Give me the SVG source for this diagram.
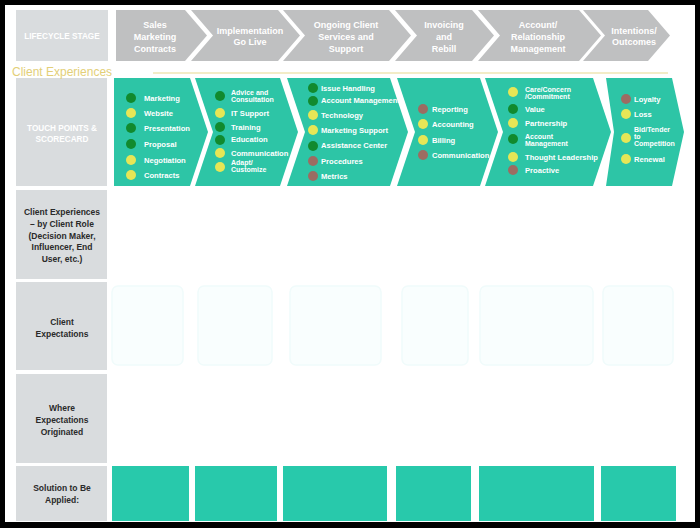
<svg xmlns="http://www.w3.org/2000/svg" width="700" height="528" viewBox="0 0 700 528">
<style>
.lbl{font-family:"Liberation Sans",Arial,sans-serif;font-weight:bold;font-size:8.5px;fill:#2a2a2a;text-anchor:middle}
.hdr{font-family:"Liberation Sans",Arial,sans-serif;font-weight:bold;font-size:9px;fill:#ffffff;text-anchor:middle}
.lh{font-family:"Liberation Sans",Arial,sans-serif;font-weight:bold;font-size:8.2px;fill:#ffffff;text-anchor:middle}
.it{font-family:"Liberation Sans",Arial,sans-serif;font-weight:bold;font-size:7.6px;fill:#ffffff}
.it2{font-family:"Liberation Sans",Arial,sans-serif;font-weight:bold;font-size:7px;fill:#ffffff}
.gbox{fill:#d9dcde}
.gch{fill:#bfc0c1}
.tch{fill:#2dc5a6}
.sol{fill:#28c9ab}
.exp{fill:#f9fefe;stroke:#f0fbfb;stroke-width:1.5}
.g{fill:#118a2e}
.y{fill:#e6e656}
.b{fill:#9c6c62}
</style>
<rect x="0" y="0" width="700" height="528" fill="#000"/>
<rect x="5" y="5" width="690" height="517" fill="#fff"/>
<g id="row-labels">
<g id="lifecycle-stage"><rect class="gbox" x="16" y="10" width="92" height="51"/><text class="lh" x="62" y="39">LIFECYCLE STAGE</text></g>
<g id="touch-points"><rect class="gbox" x="16" y="78" width="91" height="108"/><text class="lh" x="62" y="131">TOUCH POINTS &amp;</text><text class="lh" x="62" y="142">SCORECARD</text></g>
<g id="client-experiences-role"><rect class="gbox" x="16" y="190" width="91" height="89"/>
<text class="lbl" x="62" y="215">Client Experiences</text><text class="lbl" x="62" y="227">– by Client Role</text><text class="lbl" x="62" y="239">(Decision Maker,</text><text class="lbl" x="62" y="250">Influencer, End</text><text class="lbl" x="62" y="262">User, etc.)</text></g>
<g id="client-expectations"><rect class="gbox" x="16" y="282" width="91" height="88"/><text class="lbl" x="62" y="325">Client</text><text class="lbl" x="62" y="337">Expectations</text></g>
<g id="where-expectations"><rect class="gbox" x="16" y="374" width="91" height="89"/><text class="lbl" x="62" y="411">Where</text><text class="lbl" x="62" y="423">Expectations</text><text class="lbl" x="62" y="435">Originated</text></g>
<g id="solution"><rect class="gbox" x="16" y="466" width="91" height="55"/><text class="lbl" x="62" y="491">Solution to Be</text><text class="lbl" x="62" y="503">Applied:</text></g>
</g>
<g id="stages">
<g id="stage-1"><polygon class="gch" points="116,10 185,10 207,35.5 185,61 116,61"/><text class="hdr" x="155" y="28">Sales</text><text class="hdr" x="155" y="40">Marketing</text><text class="hdr" x="155" y="52">Contracts</text></g>
<g id="stage-2"><polygon class="gch" points="191,10 278,10 300,35.5 278,61 191,61 213,35.5"/><text class="hdr" x="250" y="34">Implementation</text><text class="hdr" x="250" y="45">Go Live</text></g>
<g id="stage-3"><polygon class="gch" points="283,10 389,10 411,35.5 389,61 283,61 305,35.5"/><text class="hdr" x="346" y="28">Ongoing Client</text><text class="hdr" x="346" y="40">Services and</text><text class="hdr" x="346" y="52">Support</text></g>
<g id="stage-4"><polygon class="gch" points="395,10 472,10 494,35.5 472,61 395,61 417,35.5"/><text class="hdr" x="444" y="28">Invoicing</text><text class="hdr" x="444" y="40">and</text><text class="hdr" x="444" y="52">Rebill</text></g>
<g id="stage-5"><polygon class="gch" points="478,10 579,10 601,35.5 579,61 478,61 500,35.5"/><text class="hdr" x="538" y="28">Account/</text><text class="hdr" x="538" y="40">Relationship</text><text class="hdr" x="538" y="52">Management</text></g>
<g id="stage-6"><polygon class="gch" points="583,10 648,10 670,35.5 648,61 583,61 605,35.5"/><text class="hdr" x="634" y="34">Intentions/</text><text class="hdr" x="634" y="45">Outcomes</text></g>
</g>
<g id="client-experiences-title">
<text x="12" y="75.5" font-family="'Liberation Sans',Arial,sans-serif" font-size="12" fill="#e3cf78">Client Experiences</text>
<line x1="153" y1="73" x2="668" y2="73" stroke="#efe6b4" stroke-width="1.5"/>
</g>
<g id="touch-chevrons">
<g id="tp-1"><polygon class="tch" points="114,78 190,78 208,132 190,186 114,186"/>
<circle class="g" cx="131" cy="98" r="5"/><text class="it" x="144" y="100.5">Marketing</text>
<circle class="y" cx="131" cy="113" r="5"/><text class="it" x="144" y="115.5">Website</text>
<circle class="g" cx="131" cy="128" r="5"/><text class="it" x="144" y="130.5">Presentation</text>
<circle class="g" cx="131" cy="144" r="5"/><text class="it" x="144" y="146.5">Proposal</text>
<circle class="y" cx="131" cy="160" r="5"/><text class="it" x="144" y="162.5">Negotiation</text>
<circle class="y" cx="131" cy="175" r="5"/><text class="it" x="144" y="177.5">Contracts</text></g>
<g id="tp-2"><polygon class="tch" points="195,78 280,78 298,132 280,186 195,186 213,132"/>
<circle class="g" cx="220" cy="96" r="5"/><text class="it2" x="231" y="94.5">Advice and</text><text class="it2" x="231" y="101.5">Consultation</text>
<circle class="y" cx="220" cy="113" r="5"/><text class="it" x="231" y="115.5">IT Support</text>
<circle class="g" cx="220" cy="127" r="5"/><text class="it" x="231" y="129.5">Training</text>
<circle class="g" cx="220" cy="140" r="5"/><text class="it" x="231" y="142">Education</text>
<circle class="y" cx="220" cy="153" r="5"/><text class="it" x="231" y="155.5">Communication</text>
<circle class="y" cx="220" cy="167" r="5"/><text class="it2" x="231" y="165">Adapt/</text><text class="it2" x="231" y="172">Customize</text></g>
<g id="tp-3"><polygon class="tch" points="287,78 390,78 408,132 390,186 287,186 305,132"/>
<circle class="g" cx="313" cy="88" r="5"/><text class="it" x="321" y="90.5">Issue Handling</text>
<circle class="g" cx="313" cy="101" r="5"/><text class="it" x="321" y="102.5">Account Management</text>
<circle class="y" cx="313" cy="115" r="5"/><text class="it" x="321" y="117.5">Technology</text>
<circle class="y" cx="313" cy="130" r="5"/><text class="it" x="321" y="132.5">Marketing Support</text>
<circle class="g" cx="313" cy="146" r="5"/><text class="it" x="321" y="147.5">Assistance Center</text>
<circle class="b" cx="313" cy="161" r="5"/><text class="it" x="321" y="163.5">Procedures</text>
<circle class="b" cx="313" cy="176" r="5"/><text class="it" x="321" y="178.5">Metrics</text></g>
<g id="tp-4"><polygon class="tch" points="397,78 480,78 498,132 480,186 397,186 415,132"/>
<circle class="b" cx="423" cy="109" r="5"/><text class="it" x="432" y="111.5">Reporting</text>
<circle class="y" cx="423" cy="124" r="5"/><text class="it" x="432" y="126.5">Accounting</text>
<circle class="y" cx="423" cy="140" r="5"/><text class="it" x="432" y="142.5">Billing</text>
<circle class="b" cx="423" cy="155" r="5"/><text class="it" x="432" y="157.5">Communication</text></g>
<g id="tp-5"><polygon class="tch" points="485,78 593,78 611,132 593,186 485,186 503,132"/>
<circle class="y" cx="513" cy="92" r="5"/><text class="it2" x="525" y="92">Care/Concern</text><text class="it2" x="525" y="99">/Commitment</text>
<circle class="g" cx="513" cy="109" r="5"/><text class="it" x="525" y="111.5">Value</text>
<circle class="y" cx="513" cy="123" r="5"/><text class="it" x="525" y="125.5">Partnership</text>
<circle class="g" cx="513" cy="139" r="5"/><text class="it2" x="525" y="139">Account</text><text class="it2" x="525" y="146">Management</text>
<circle class="y" cx="513" cy="157" r="5"/><text class="it" x="525" y="159.5">Thought Leadership</text>
<circle class="b" cx="513" cy="170" r="5"/><text class="it" x="525" y="172.5">Proactive</text></g>
<g id="tp-6"><polygon class="tch" points="606,78 672,78 684,132 672,186 606,186 614,132"/>
<circle class="b" cx="626" cy="99" r="5"/><text class="it" x="634" y="101.5">Loyalty</text>
<circle class="y" cx="626" cy="114" r="5"/><text class="it" x="634" y="116.5">Loss</text>
<circle class="y" cx="626" cy="138" r="5"/><text class="it2" x="634" y="132">Bid/Tender</text><text class="it2" x="634" y="139">to</text><text class="it2" x="634" y="146">Competition</text>
<circle class="y" cx="626" cy="159" r="5"/><text class="it" x="634" y="161.5">Renewal</text></g>
</g>
<g id="expectation-boxes">
<rect class="exp" x="112" y="286" width="71" height="79" rx="6"/>
<rect class="exp" x="198" y="286" width="74" height="79" rx="6"/>
<rect class="exp" x="290" y="286" width="91" height="79" rx="6"/>
<rect class="exp" x="402" y="286" width="66" height="79" rx="6"/>
<rect class="exp" x="480" y="286" width="113" height="79" rx="6"/>
<rect class="exp" x="603" y="286" width="70" height="79" rx="6"/>
</g>
<g id="solution-boxes">
<rect class="sol" x="112" y="466" width="77" height="55"/>
<rect class="sol" x="195" y="466" width="82" height="55"/>
<rect class="sol" x="283" y="466" width="104" height="55"/>
<rect class="sol" x="396" y="466" width="75" height="55"/>
<rect class="sol" x="479" y="466" width="115" height="55"/>
<rect class="sol" x="601" y="466" width="75" height="55"/>
</g>
<g id="connectors"/>
</svg>
